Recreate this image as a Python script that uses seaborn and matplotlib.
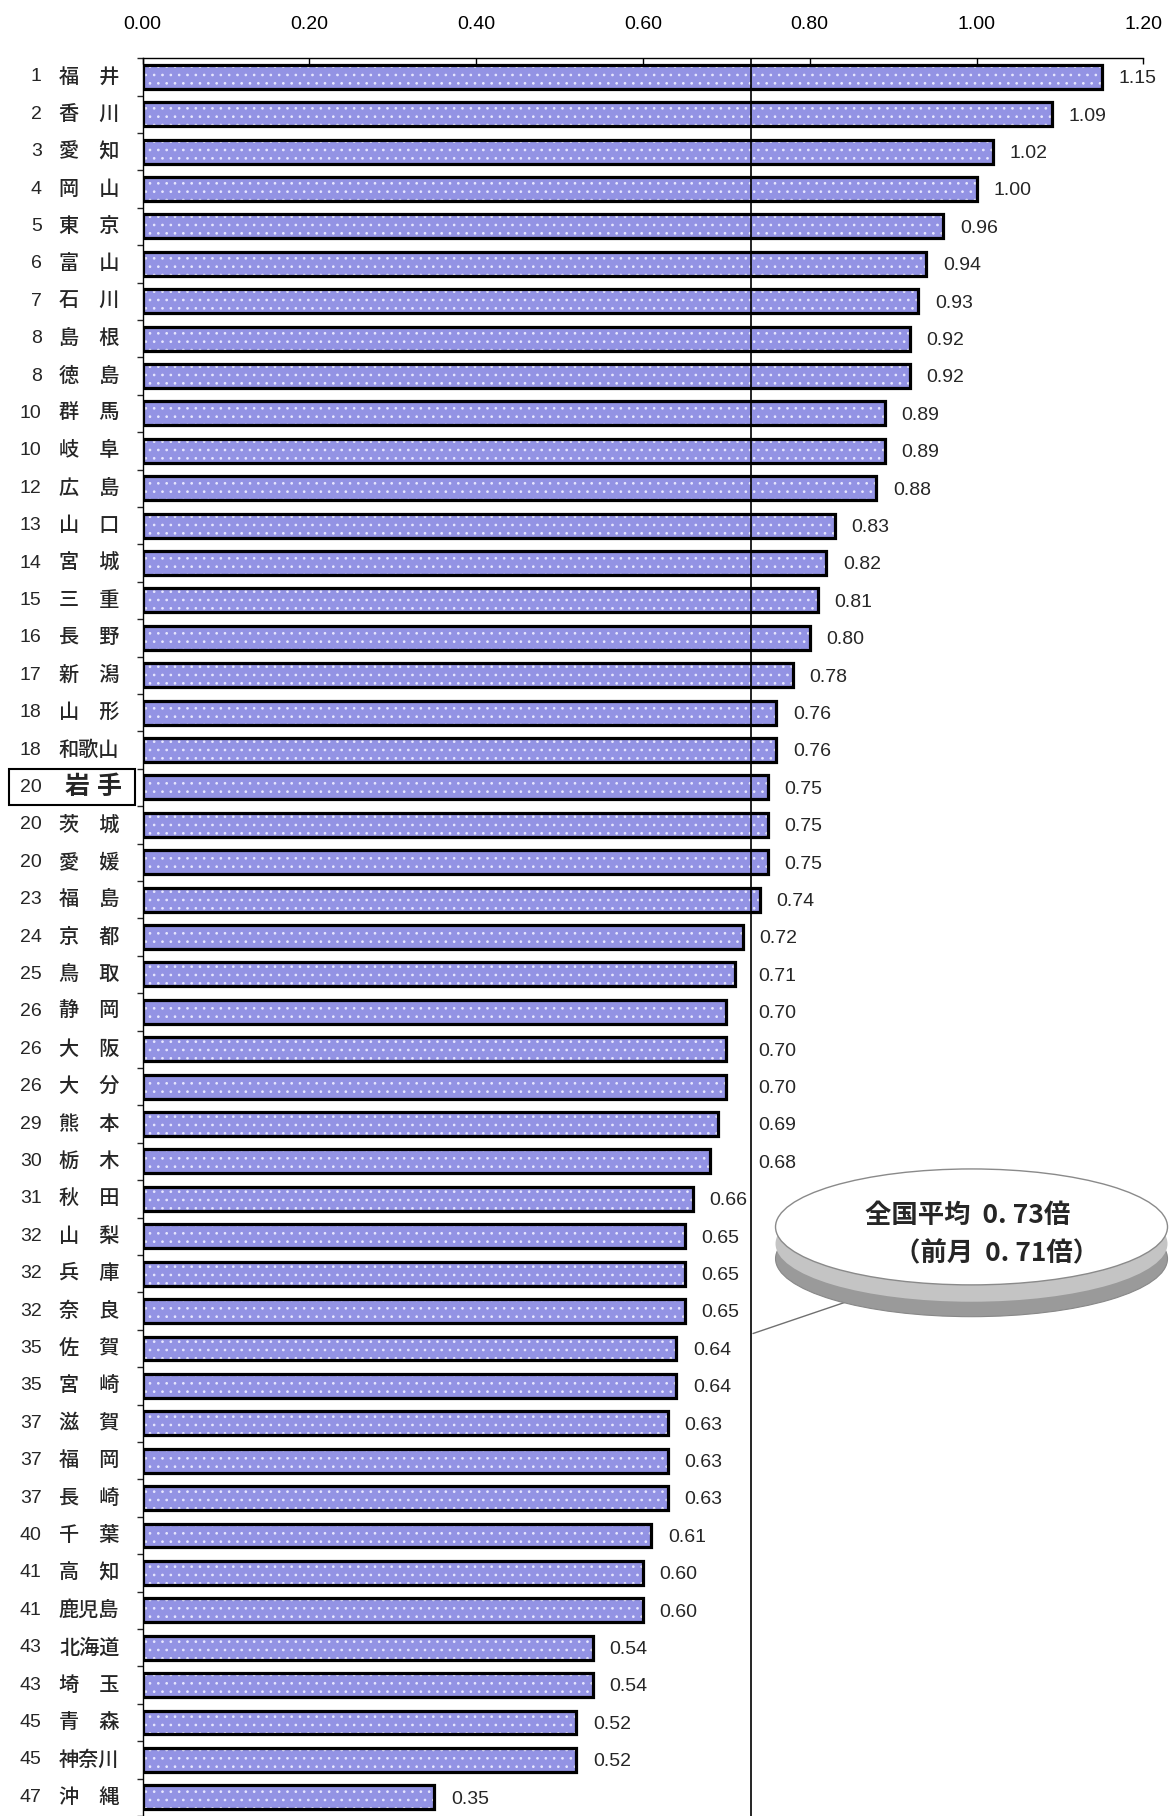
import matplotlib
matplotlib.use("Agg")
import matplotlib.pyplot as plt
import matplotlib.transforms as mtrans
from matplotlib.patches import Ellipse, Rectangle
import seaborn as sns
import pandas as pd

ranks = [1, 2, 3, 4, 5, 6, 7, 8, 8, 10, 10, 12, 13, 14, 15, 16, 17, 18, 18, 20,
         20, 20, 23, 24, 25, 26, 26, 26, 29, 30, 31, 32, 32, 32, 35, 35, 37, 37,
         37, 40, 41, 41, 43, 43, 45, 45, 47]
prefs = ["福井", "香川", "愛知", "岡山", "東京", "富山", "石川", "島根", "徳島", "群馬",
         "岐阜", "広島", "山口", "宮城", "三重", "長野", "新潟", "山形", "和歌山", "岩手",
         "茨城", "愛媛", "福島", "京都", "鳥取", "静岡", "大阪", "大分", "熊本", "栃木",
         "秋田", "山梨", "兵庫", "奈良", "佐賀", "宮崎", "滋賀", "福岡", "長崎", "千葉",
         "高知", "鹿児島", "北海道", "埼玉", "青森", "神奈川", "沖縄"]
values = [1.15, 1.09, 1.02, 1.00, 0.96, 0.94, 0.93, 0.92, 0.92, 0.89, 0.89, 0.88,
          0.83, 0.82, 0.81, 0.80, 0.78, 0.76, 0.76, 0.75, 0.75, 0.75, 0.74, 0.72,
          0.71, 0.70, 0.70, 0.70, 0.69, 0.68, 0.66, 0.65, 0.65, 0.65, 0.64, 0.64,
          0.63, 0.63, 0.63, 0.61, 0.60, 0.60, 0.54, 0.54, 0.52, 0.52, 0.35]
national_avg = 0.73
prev_month = 0.71
highlight = "岩手"
x_ticks = [0.00, 0.20, 0.40, 0.60, 0.80, 1.00, 1.20]

sns.set_theme(style="white")
plt.rcParams['font.family'] = ['Liberation Sans', 'Noto Sans CJK JP', 'DejaVu Sans']
plt.rcParams['hatch.linewidth'] = 0.7

df = pd.DataFrame({"pref": prefs, "value": values, "rank": ranks})
df["key"] = [f"{r}_{p}" for r, p in zip(ranks, prefs)]

fig = plt.figure(figsize=(11.7, 18.16), dpi=100)
fig.patch.set_facecolor("white")
ax = fig.add_axes([0.1218, 0.0, 0.8554, 0.968])

sns.barplot(data=df, y="key", x="value", orient="h", color="#9393e4",
            width=0.64, edgecolor="#e8e8ff", linewidth=0, hatch="..",
            saturation=1, ax=ax, order=list(df["key"]))
sns.barplot(data=df, y="key", x="value", orient="h", fill=False,
            color="black", width=0.64, linewidth=2.3, ax=ax,
            order=list(df["key"]))

ax.set_xlim(0, 1.2)
ax.set_ylim(len(values) - 0.5, -0.5)
ax.set_xlabel("")
ax.set_ylabel("")

# axis styling
for s in ["right", "bottom"]:
    ax.spines[s].set_visible(False)
for s in ["top", "left"]:
    ax.spines[s].set_visible(True)
    ax.spines[s].set_color("black")
    ax.spines[s].set_linewidth(1.0)
ax.xaxis.tick_top()
ax.set_xticks(x_ticks)
ax.set_xticklabels([f"{t:.2f}" for t in x_ticks], fontsize=14)
ax.tick_params(axis="x", which="both", top=True, bottom=False, direction="in",
               length=4, width=1, pad=18, colors="black")
ax.set_yticks([i + 0.5 for i in range(-1, len(values))])
ax.set_yticklabels([])
ax.tick_params(axis="y", left=True, direction="out", length=4, width=1)

# national average line
ax.axvline(national_avg, color="black", lw=1.2, zorder=5)

# row labels
blend = mtrans.blended_transform_factory(fig.transFigure, ax.transData)
for i, (r, p, v) in enumerate(zip(ranks, prefs, values)):
    name = p if len(p) == 3 else p[0] + "\u3000" + p[1]
    ax.text(0.0356, i, str(r), transform=blend, ha="right", va="center",
            fontsize=14, clip_on=False)
    if p == highlight:
        ax.text(0.0800, i, p[0] + " " + p[1], transform=blend, ha="center", va="center",
                fontsize=18, fontweight="bold", style="italic", clip_on=False)
        ax.add_patch(Rectangle((0.008, i - 0.48), 0.107, 0.96, transform=blend,
                               fill=False, ec="black", lw=1.5, clip_on=False))
    else:
        ax.text(0.0762, i, name, transform=blend, ha="center", va="center",
                fontsize=14.5, fontweight="medium", clip_on=False)
    lx = v + 0.02
    if lx < national_avg + 0.005 and lx + 0.05 > national_avg + 0.001:
        lx = national_avg + 0.008
    ax.text(lx, i + 0.05, f"{v:.2f}", ha="left", va="center", fontsize=14,
            clip_on=False)

# callout bubble
cx, cy, w, h = 0.994, 30.75, 0.47, 3.1
ax.plot([0.851, national_avg + 0.002], [32.7, 33.6], color="#707070", lw=1.0,
        zorder=6)
ax.add_patch(Ellipse((cx, cy + 0.85), w, h, facecolor="#9a9a9a", edgecolor="#888888",
                     lw=0.8, clip_on=False, zorder=6))
ax.add_patch(Ellipse((cx, cy + 0.45), w, h, facecolor="#c4c4c4", edgecolor="none",
                     clip_on=False, zorder=6))
ax.add_patch(Ellipse((cx, cy), w, h, facecolor="white", edgecolor="#8a8a8a",
                     lw=1.0, clip_on=False, zorder=7))
ax.text(cx - 0.005, cy - 0.3, f"全国平均  0. {int(round(national_avg*100))}倍",
        ha="center", va="center", fontsize=19, fontweight="bold", zorder=8,
        family=['Noto Sans CJK JP', 'DejaVu Sans'], clip_on=False)
ax.text(cx + 0.03, cy + 0.72, f"（前月  0. {int(round(prev_month*100))}倍）",
        ha="center", va="center", fontsize=19, fontweight="bold", zorder=8,
        family=['Noto Sans CJK JP', 'DejaVu Sans'], clip_on=False)

fig.savefig("out.png", dpi=100, facecolor="white")
